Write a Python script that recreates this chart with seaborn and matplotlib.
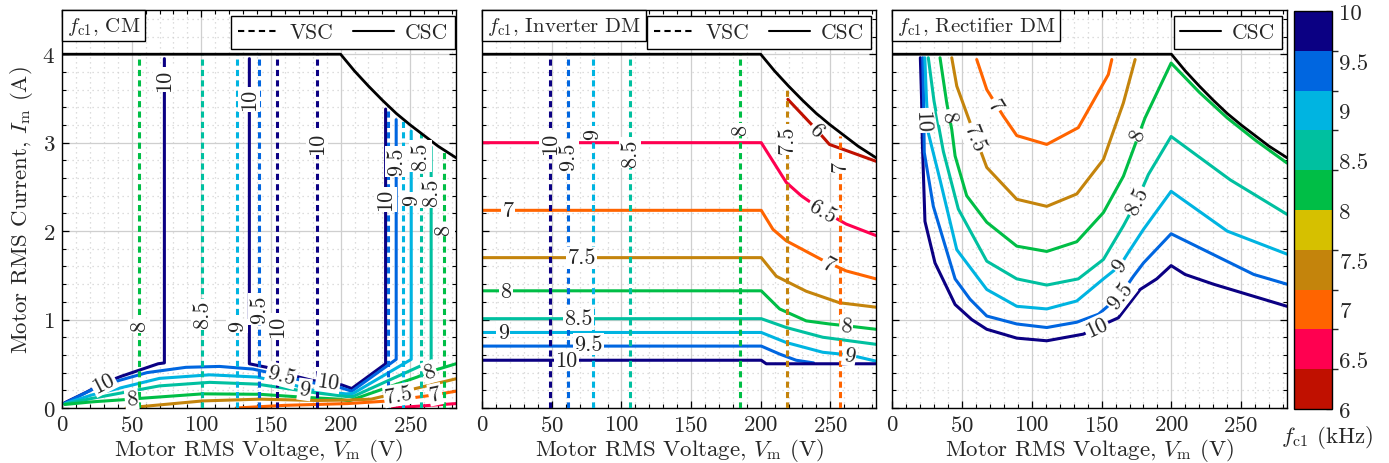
import numpy as np
import pandas as pd
import matplotlib
matplotlib.use("Agg")
import matplotlib.pyplot as plt
import seaborn as sns
from matplotlib.colors import ListedColormap, BoundaryNorm
from matplotlib.lines import Line2D
from matplotlib.ticker import MultipleLocator
from matplotlib.offsetbox import AnchoredText
import matplotlib.cm as mcm

# ---------------- colour scale (kHz) ----------------
level_edges = [6.0, 6.4, 6.8, 7.2, 7.6, 8.0, 8.4, 8.8, 9.2, 9.6, 10.0]
level_colors = ["#c01000", "#ff0050", "#ff6400", "#c4840c", "#d6c000",
                "#00be46", "#00c0a0", "#00b4e1", "#0066e0", "#0b0083"]
cbar_ticks = [6, 6.5, 7, 7.5, 8, 8.5, 9, 9.5, 10]
cbar_ticklabels = ["6", "6.5", "7", "7.5", "8", "8.5", "9", "9.5", "10"]

# ---------------- CSC operating boundary ----------------
bound_v = [0, 200, 210, 220, 230, 240, 250, 260, 270, 282.8]
bound_i = [4.0, 4.0, 3.81, 3.64, 3.48, 3.33, 3.20, 3.08, 2.96, 2.83]

# ---------------- panel 1 : CM ----------------
cm_10a_v = [2, 17.7, 29.6, 42.8, 69.0, 73.5, 73.5]
cm_10a_i = [0.06, 0.18, 0.28, 0.36, 0.50, 0.51, 3.95]
cm_10b_v = [134.5, 134.5, 147, 160, 170, 180, 191, 201, 208, 232.3, 232.3]
cm_10b_i = [3.95, 0.50, 0.46, 0.40, 0.35, 0.31, 0.29, 0.26, 0.22, 0.50, 3.38]
cm_95_v = [2, 27, 61, 89, 113, 137, 157.5, 175, 200, 208, 239.9, 239.9]
cm_95_i = [0.055, 0.25, 0.40, 0.46, 0.47, 0.44, 0.37, 0.30, 0.23, 0.19, 0.55, 3.26]
cm_9_v = [2, 22, 70, 106, 140, 166, 183, 204, 209, 250.7, 250.7]
cm_9_i = [0.05, 0.15, 0.335, 0.375, 0.35, 0.26, 0.19, 0.16, 0.165, 0.55, 3.13]
cm_85_v = [2, 22, 70, 106, 140, 183, 204, 209, 265, 265]
cm_85_i = [0.045, 0.11, 0.25, 0.29, 0.27, 0.17, 0.13, 0.13, 0.53, 2.95]
cm_8_v = [2, 22, 50, 57, 101, 142, 175, 199, 206, 255, 264, 282.8]
cm_8_i = [0.04, 0.07, 0.10, 0.11, 0.16, 0.155, 0.12, 0.10, 0.08, 0.35, 0.41, 0.50]
cm_75_v = [46, 101, 142, 183, 206, 222, 282.8]
cm_75_i = [0.0, 0.08, 0.10, 0.085, 0.09, 0.10, 0.33]
cm_7_v = [125, 160, 205, 235, 254, 268, 282.8]
cm_7_i = [0.0, 0.03, 0.05, 0.08, 0.12, 0.15, 0.19]
cm_65_v = [237, 282.8]
cm_65_i = [0.0, 0.05]
cm_vsc_level = [8, 8.5, 9, 9.5, 10, 10, 9.5, 9, 8.5, 8]
cm_vsc_v = [55.4, 100.6, 125.9, 141.5, 154.4, 183.0, 233.7, 244.5, 257.4, 274.0]
cm_vsc_top = [4, 4, 4, 4, 4, 4, 3.42, 3.27, 3.11, 2.92]
cm_labels = [("10", 73.5, 3.71, 90), ("10", 134.5, 3.49, 90), ("10", 29.6, 0.29, 27),
             ("8", 50, 0.10, 6), ("9.5", 157.5, 0.37, -15), ("10", 191, 0.30, -8),
             ("9", 174.2, 0.21, -8), ("7.5", 242, 0.15, 10), ("7", 268, 0.155, 12),
             ("8", 264, 0.41, 20), ("10", 232.3, 2.36, 90), ("9.5", 239.9, 2.79, 90),
             ("9", 250.7, 2.36, 90), ("8.5", 265, 2.44, 90),
             ("8", 55.4, 0.93, 90), ("8.5", 100.6, 1.06, 90), ("9", 125.9, 0.93, 90),
             ("9.5", 141.5, 1.12, 90), ("10", 154.4, 0.93, 90), ("10", 183, 3.0, 90),
             ("8.5", 257.4, 2.85, 90), ("8", 274, 2.02, 90)]

# ---------------- panel 2 : inverter DM ----------------
inv_6_v = [219.5, 239.9, 249.4, 282.8]
inv_6_i = [3.49, 3.15, 2.98, 2.79]
inv_65_v = [0, 200.4, 218.4, 229.1, 244.6, 261.4, 282.8]
inv_65_i = [3.0, 3.0, 2.55, 2.40, 2.23, 2.08, 1.95]
inv_7_v = [0, 200.4, 208.8, 218.4, 243.5, 261.4, 282.8]
inv_7_i = [2.235, 2.235, 2.02, 1.89, 1.68, 1.55, 1.46]
inv_75_v = [0, 200.4, 211.2, 232.7, 256.6, 282.8]
inv_75_i = [1.70, 1.70, 1.49, 1.32, 1.19, 1.14]
inv_8_v = [0, 200.4, 213.6, 232.7, 249.4, 261.4, 282.8]
inv_8_i = [1.325, 1.325, 1.12, 0.985, 0.95, 0.93, 0.89]
inv_85_v = [0, 200.4, 218.4, 244.6, 282.8]
inv_85_i = [1.01, 1.01, 0.91, 0.80, 0.72]
inv_9_v = [0, 200.4, 218.4, 244.6, 263.8, 282.8]
inv_9_i = [0.854, 0.854, 0.74, 0.63, 0.60, 0.53]
inv_95_v = [0, 200.4, 213.6, 225.5, 238]
inv_95_i = [0.70, 0.70, 0.61, 0.54, 0.51]
inv_10_v = [0, 200.4, 204, 282.8]
inv_10_i = [0.54, 0.54, 0.50, 0.50]
inv_vsc_level = [10, 9.5, 9, 8.5, 8, 7.5, 7]
inv_vsc_v = [48.6, 61.7, 79.2, 106.4, 185.4, 218.8, 257.1]
inv_vsc_top = [4, 4, 4, 4, 4, 3.62, 3.08]
inv_labels = [("7", 18.7, 2.235, 0), ("7.5", 71.3, 1.70, 0), ("8", 16.8, 1.325, 0),
              ("8.5", 68.9, 1.01, 0), ("9", 15.1, 0.854, 0), ("9.5", 76, 0.72, 0),
              ("10", 60.5, 0.54, 0), ("6.5", 244.6, 2.23, -30), ("6", 239.9, 3.14, -45),
              ("7", 248.3, 1.62, -28), ("8", 261.4, 0.93, -5), ("9", 263.8, 0.60, -10),
              ("10", 48.6, 3.0, 90), ("9.5", 61.7, 2.85, 90), ("9", 79.2, 3.11, 90),
              ("8.5", 106.4, 2.89, 90), ("8", 185.4, 3.15, 90), ("7.5", 218.8, 3.04, 90),
              ("7", 257.1, 2.74, 90)]

# ---------------- panel 3 : rectifier DM ----------------
rec_10_v = [20.1, 21.0, 21.5, 23.4, 30.6, 45, 56.9, 67.7, 89.2, 110.7, 136.9, 146.5,
            162, 177.6, 189.5, 199.8, 209.8, 230.1, 282.8]
rec_10_i = [3.96, 3.49, 3.02, 2.11, 1.64, 1.17, 1.00, 0.89, 0.79, 0.76, 0.835, 0.91,
            1.02, 1.34, 1.46, 1.61, 1.51, 1.40, 1.15]
rec_95_v = [21.8, 22.4, 22.9, 29.4, 45, 55.7, 67.7, 89.2, 110.7, 132.2, 147.7, 163.2,
            172.8, 180, 199.8, 259, 282.8]
rec_95_i = [3.96, 3.49, 2.89, 2.28, 1.46, 1.23, 1.04, 0.95, 0.91, 0.97, 1.06, 1.27,
            1.49, 1.64, 1.97, 1.51, 1.40]
rec_9_v = [23.3, 24.5, 25.8, 34.2, 46.2, 67.7, 89.2, 110.7, 132.2, 151.3, 163.2, 169.2,
           180, 199.8, 240, 282.8]
rec_9_i = [3.96, 3.49, 3.11, 2.58, 1.79, 1.34, 1.15, 1.12, 1.21, 1.46, 1.61, 1.76,
           2.02, 2.45, 2.00, 1.74]
rec_85_v = [25.8, 29.9, 36.6, 47.3, 67.7, 89.2, 110.7, 133.3, 151.3, 165.6, 175.2,
            183.5, 199.8, 242.1, 282.8]
rec_85_i = [3.96, 3.47, 2.90, 2.25, 1.66, 1.46, 1.39, 1.46, 1.68, 2.06, 2.34, 2.64,
            3.07, 2.58, 2.19]
rec_8_v = [34.2, 39, 42.6, 45, 53.3, 67.7, 89.2, 110.7, 132.2, 151.3, 165.6, 181.1,
           199.8, 220, 240, 260, 282.8]
rec_8_i = [3.96, 3.45, 3.15, 2.85, 2.40, 2.10, 1.83, 1.77, 1.88, 2.21, 2.62, 3.28,
           3.90, 3.57, 3.28, 3.03, 2.77]
rec_75_v = [42.6, 46.2, 54.5, 67.7, 89.2, 110.7, 132.2, 151.3, 165.6, 174]
rec_75_i = [3.96, 3.64, 3.28, 2.72, 2.36, 2.28, 2.42, 2.81, 3.45, 3.94]
rec_7_v = [60.5, 67.7, 79.6, 89.2, 110.7, 133.3, 154.8, 157.3]
rec_7_i = [3.94, 3.60, 3.30, 3.08, 2.98, 3.17, 3.77, 3.94]
rec_labels = [("10", 21.2, 3.25, -88), ("8", 40.5, 3.30, -80), ("7.5", 58.5, 3.05, -68),
              ("7", 73.5, 3.42, -58), ("8", 176.0, 3.09, 70), ("8.5", 175.2, 2.34, 64),
              ("9", 163.2, 1.61, 55), ("9.5", 163.2, 1.27, 52), ("10", 146.5, 0.91, 25)]

# ---------------- text ----------------
panel_titles = [r"$f_{\mathrm{c1}}$, CM", r"$f_{\mathrm{c1}}$, Inverter DM",
                r"$f_{\mathrm{c1}}$, Rectifier DM"]
xlabel = r"Motor RMS Voltage, $V_{\mathrm{m}}$ (V)"
ylabel = r"Motor RMS Current, $I_{\mathrm{m}}$ (A)"
cbar_label = r"$f_{\mathrm{c1}}$ (kHz)"

# ---------------- style ----------------
sns.set_theme(style="ticks")
plt.rcParams.update({
    "font.family": ["cmr10", "DejaVu Serif"],
    "mathtext.fontset": "cm",
    "axes.formatter.use_mathtext": True,
    "axes.unicode_minus": False,
    "font.size": 16,
})

cmap = ListedColormap(level_colors)
norm = BoundaryNorm(level_edges, cmap.N, clip=True)


def col(level):
    return cmap(norm(min(level, 9.99)))


DASH = (0, (2.0, 1.4))
LW = 2.2
FS_TICK = 16.5
FS_LAB = 16.5
FS_CLAB = 16


def draw(ax, v, i, level, dashed=False, color=None, lw=LW, z=2):
    df = pd.DataFrame({"V": v, "I": i})
    sns.lineplot(data=df, x="V", y="I", sort=False, estimator=None, ax=ax,
                 color=color if color is not None else col(level), lw=lw,
                 linestyle=DASH if dashed else "-", legend=False, zorder=z)


def put_labels(ax, labels):
    for txt, v, i, rot in labels:
        ax.text(v, i, txt, rotation=rot, ha="center", va="center",
                rotation_mode="anchor", fontsize=FS_CLAB, zorder=6,
                bbox=dict(boxstyle="square,pad=0.06", fc="white", ec="none"))


fig = plt.figure(figsize=(13.89, 4.64), dpi=100)
W, H = 1389.0, 464.0
ax1 = fig.add_axes([62 / W, 1 - 409 / H, 394 / W, 398 / H])
ax2 = fig.add_axes([482.3 / W, 1 - 409 / H, 393.7 / W, 398 / H])
ax3 = fig.add_axes([892.3 / W, 1 - 409 / H, 394.7 / W, 398 / H])
cax = fig.add_axes([1294.3 / W, 1 - 410 / H, 38 / W, 398 / H])

# panel 1
for lvl, v, i in [(10, cm_10a_v, cm_10a_i), (10, cm_10b_v, cm_10b_i), (9.5, cm_95_v, cm_95_i),
                  (9, cm_9_v, cm_9_i), (8.5, cm_85_v, cm_85_i), (8, cm_8_v, cm_8_i),
                  (7.5, cm_75_v, cm_75_i), (7, cm_7_v, cm_7_i), (6.5, cm_65_v, cm_65_i)]:
    draw(ax1, v, i, lvl)
for lvl, v, top in zip(cm_vsc_level, cm_vsc_v, cm_vsc_top):
    draw(ax1, [v, v], [0, top], lvl, dashed=True, z=3)
put_labels(ax1, cm_labels)

# panel 2
for lvl, v, i in [(6, inv_6_v, inv_6_i), (6.5, inv_65_v, inv_65_i), (7, inv_7_v, inv_7_i),
                  (7.5, inv_75_v, inv_75_i), (8, inv_8_v, inv_8_i), (8.5, inv_85_v, inv_85_i),
                  (9, inv_9_v, inv_9_i), (9.5, inv_95_v, inv_95_i), (10, inv_10_v, inv_10_i)]:
    draw(ax2, v, i, lvl)
for lvl, v, top in zip(inv_vsc_level, inv_vsc_v, inv_vsc_top):
    draw(ax2, [v, v], [0, top], lvl, dashed=True, z=3)
put_labels(ax2, inv_labels)

# panel 3
for lvl, v, i in [(10, rec_10_v, rec_10_i), (9.5, rec_95_v, rec_95_i), (9, rec_9_v, rec_9_i),
                  (8.5, rec_85_v, rec_85_i), (8, rec_8_v, rec_8_i), (7.5, rec_75_v, rec_75_i),
                  (7, rec_7_v, rec_7_i)]:
    draw(ax3, v, i, lvl)
put_labels(ax3, rec_labels)

for k, ax in enumerate([ax1, ax2, ax3]):
    draw(ax, bound_v, bound_i, None, color="black", lw=2.0, z=4)
    ax.set_xlim(0, 282.84)
    ax.set_ylim(0, 4.5)
    ax.xaxis.set_major_locator(MultipleLocator(50))
    ax.xaxis.set_minor_locator(MultipleLocator(10))
    ax.yaxis.set_major_locator(MultipleLocator(1))
    ax.yaxis.set_minor_locator(MultipleLocator(0.2))
    ax.grid(True, which="major", color="#cfcfcf", lw=0.9, ls="-", zorder=0)
    ax.grid(True, which="minor", color="#d2d2d2", lw=0.9, ls=(0, (1, 3)), zorder=0)
    ax.set_axisbelow(True)
    ax.tick_params(which="both", direction="in", top=True, right=True,
                   labelsize=FS_TICK, color="black", pad=5)
    ax.tick_params(which="major", length=5, width=0.9)
    ax.tick_params(which="minor", length=2.8, width=0.8)
    for s in ax.spines.values():
        s.set_color("black")
        s.set_linewidth(1.0)
    ax.set_xlabel(xlabel, fontsize=FS_LAB, labelpad=1)
    if k == 0:
        ax.set_ylabel(ylabel, fontsize=FS_LAB, labelpad=5)
    else:
        ax.set_ylabel("")
        ax.tick_params(labelleft=False)
    at = AnchoredText(panel_titles[k], loc="upper left", frameon=True, pad=0.22,
                      borderpad=0.0, prop=dict(size=15))
    at.patch.set_boxstyle("square,pad=0")
    at.patch.set_edgecolor("black")
    at.patch.set_linewidth(1.0)
    at.zorder = 7
    ax.add_artist(at)

vsc_handle = Line2D([], [], color="black", lw=1.5, linestyle=(0, (3, 2)))
csc_handle = Line2D([], [], color="black", lw=1.5)
for ax, handles, labels, x0 in [(ax1, [vsc_handle, csc_handle], ["VSC", "CSC"], 0.997),
                                (ax2, [vsc_handle, csc_handle], ["VSC", "CSC"], 0.987),
                                (ax3, [csc_handle], ["CSC"], 0.988)]:
    leg = ax.legend(handles, labels, loc="upper right", bbox_to_anchor=(x0, 0.985),
                    ncol=len(handles), frameon=True, fancybox=False, framealpha=1,
                    edgecolor="black", fontsize=15.5, borderaxespad=0, handlelength=1.9,
                    columnspacing=0.9, handletextpad=0.5, borderpad=0.32)
    leg.get_frame().set_linewidth(1.0)
    leg.set_zorder(7)

sm = mcm.ScalarMappable(cmap=cmap, norm=norm)
cb = fig.colorbar(sm, cax=cax, ticks=cbar_ticks)
cb.ax.set_yticklabels(cbar_ticklabels)
cb.ax.tick_params(direction="in", length=4, labelsize=FS_TICK, width=0.9, pad=5)
cb.outline.set_edgecolor("black")
cb.outline.set_linewidth(1.0)
fig.text(1327 / W, 1 - 438 / H, cbar_label, ha="center", va="center", fontsize=16.5)

fig.savefig("out.png", dpi=100)
